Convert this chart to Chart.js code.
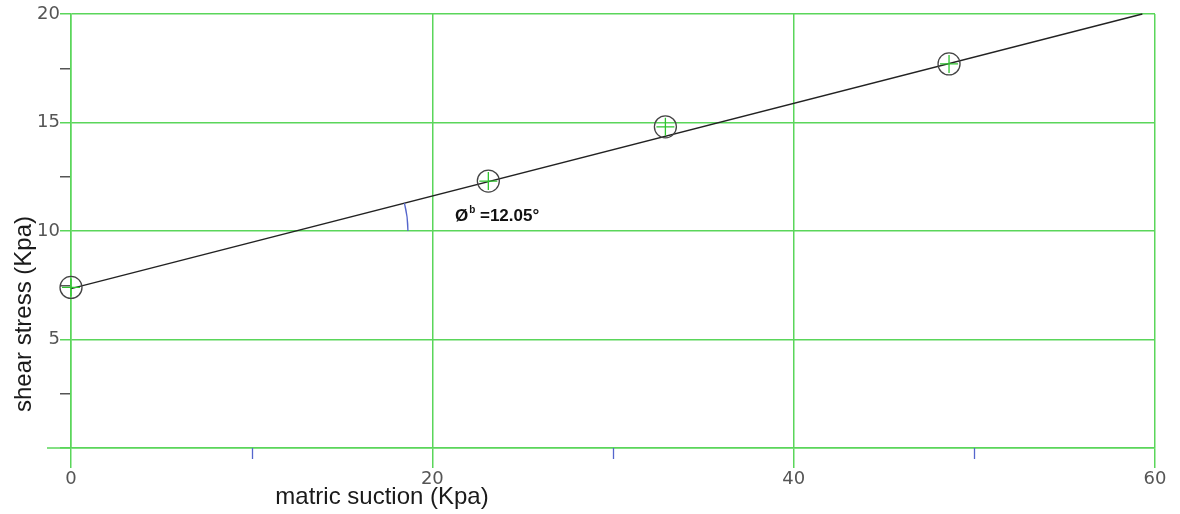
<!DOCTYPE html>
<html>
<head>
<meta charset="utf-8">
<script src="https://cdn.jsdelivr.net/npm/chart.js@4.4.1/dist/chart.umd.min.js"></script>
<style>
  html, body { margin: 0; padding: 0; background: #ffffff; }
  #wrap { width: 1180px; height: 514px; position: relative; }
</style>
</head>
<body>
<div id="wrap"><canvas id="c" width="1180" height="514"></canvas></div>
<script>
// ---- data ----
const suction = [0, 23.1, 32.9, 48.6];          // matric suction (kPa)
const shear   = [7.4, 12.3, 14.8, 17.7];         // shear stress (kPa)
const fitSuction = [0, 59.3];                    // fitted line end points
const fitShear   = [7.35, 20];
const xTickLabels = ['0', '20', '40', '60'];
const yTickLabels = ['5', '10', '15', '20'];
const xTitle = 'matric suction (Kpa)';
const yTitle = 'shear stress (Kpa)';
const angleSymbol = 'Ø';
const angleSup = 'b';
const angleText = ' =12.05°';
const angleLabelAt = [21.25, 10.44];   // where the angle label sits (data units)
const angleBaseShear = 10;             // horizontal reference line for the angle
const angleArcEnd = 18.65;             // suction where the arc meets the reference line

const GREEN = '#5ad65a';
const BLUE = '#5566cc';
const TICKGREY = '#555555';

const overlay = {
  id: 'overlay',
  afterDraw(chart) {
    const ctx = chart.ctx;
    const xs = chart.scales.x, ys = chart.scales.y;
    const area = chart.chartArea;
    ctx.save();
    // minor x ticks (blue)
    ctx.strokeStyle = BLUE; ctx.lineWidth = 1.3;
    xs.ticks.forEach(t => {
      if (t.value % 20 !== 0) {
        const px = Math.round(xs.getPixelForValue(t.value)) + 0.5;
        ctx.beginPath(); ctx.moveTo(px, area.bottom); ctx.lineTo(px, area.bottom + 11); ctx.stroke();
      }
    });
    // baseline extension at y = 0
    ctx.strokeStyle = GREEN; ctx.lineWidth = 1.5;
    const y0 = ys.getPixelForValue(0);
    ctx.beginPath(); ctx.moveTo(area.left - 24, y0); ctx.lineTo(area.left, y0); ctx.stroke();

    // angle arc
    const slope = (fitShear[1] - fitShear[0]) / (fitSuction[1] - fitSuction[0]);
    const xi = fitSuction[0] + (angleBaseShear - fitShear[0]) / slope;
    const cx = xs.getPixelForValue(xi), cy = ys.getPixelForValue(angleBaseShear);
    const p0x = xs.getPixelForValue(fitSuction[0]), p0y = ys.getPixelForValue(fitShear[0]);
    const p1x = xs.getPixelForValue(fitSuction[1]), p1y = ys.getPixelForValue(fitShear[1]);
    const ang = Math.atan2(p1y - p0y, p1x - p0x);
    const r = xs.getPixelForValue(angleArcEnd) - cx;
    ctx.strokeStyle = BLUE; ctx.lineWidth = 1.3;
    ctx.beginPath(); ctx.arc(cx, cy, r, ang, 0); ctx.stroke();

    // angle label
    let lx = xs.getPixelForValue(angleLabelAt[0]);
    const ly = ys.getPixelForValue(angleLabelAt[1]);
    ctx.fillStyle = '#111';
    ctx.textBaseline = 'alphabetic'; ctx.textAlign = 'left';
    ctx.font = 'bold 17px "Liberation Sans", Arial, sans-serif';
    ctx.fillText(angleSymbol, lx, ly);
    lx += ctx.measureText(angleSymbol).width + 1;
    ctx.font = 'bold 10px "Liberation Sans", Arial, sans-serif';
    ctx.fillText(angleSup, lx, ly - 8);
    lx += ctx.measureText(angleSup).width;
    ctx.font = 'bold 17px "Liberation Sans", Arial, sans-serif';
    ctx.fillText(angleText, lx, ly);

    // axis titles
    ctx.fillStyle = '#1a1a1a';
    ctx.font = '24px "Liberation Sans", Arial, sans-serif';
    ctx.textAlign = 'center';
    ctx.fillText(xTitle, 382, 504);
    ctx.save();
    ctx.translate(31, 314);
    ctx.rotate(-Math.PI / 2);
    ctx.fillText(yTitle, 0, 0);
    ctx.restore();
    ctx.restore();
  }
};

const points = suction.map((x, i) => ({ x, y: shear[i] }));
const fit = fitSuction.map((x, i) => ({ x, y: fitShear[i] }));

new Chart(document.getElementById('c'), {
  type: 'scatter',
  data: {
    datasets: [
      { data: fit, showLine: true, borderColor: '#222', borderWidth: 1.3, pointRadius: 0, clip: false, order: 3 },
      { data: points, pointStyle: 'cross', pointRadius: 9, borderColor: '#2fc42f', borderWidth: 1.3, clip: false, order: 2 },
      { data: points, pointStyle: 'circle', pointRadius: 11, borderColor: '#444', backgroundColor: 'rgba(0,0,0,0)', borderWidth: 1.3, clip: false, order: 1 }
    ]
  },
  options: {
    responsive: false,
    animation: false,
    devicePixelRatio: 1,
    layout: { padding: { left: 0, right: 25, top: 14, bottom: 0 } },
    plugins: { legend: { display: false }, tooltip: { enabled: false } },
    scales: {
      x: {
        type: 'linear', min: 0, max: 60,
        afterFit: s => { s.height = 66; },
        border: { display: true, color: GREEN, width: 1.5 },
        grid: {
          color: c => (c.tick && c.tick.value % 20 === 0) ? GREEN : 'rgba(0,0,0,0)',
          tickColor: c => (c.tick && c.tick.value % 20 === 0) ? GREEN : 'rgba(0,0,0,0)',
          lineWidth: 1.5, tickLength: 20
        },
        ticks: {
          stepSize: 10, padding: 1, maxRotation: 0, autoSkip: false,
          color: TICKGREY, font: { family: '"DejaVu Sans"', size: 18 },
          callback: v => (v % 20 === 0 ? xTickLabels[v / 20] : '')
        }
      },
      y: {
        type: 'linear', min: 0, max: 20,
        afterFit: s => { s.width = 71; },
        border: { display: true, color: GREEN, width: 1.5 },
        grid: {
          color: c => (c.tick && c.tick.value % 5 === 0) ? GREEN : 'rgba(0,0,0,0)',
          tickColor: c => (c.tick && c.tick.value % 5 === 0) ? GREEN : '#555',
          lineWidth: 1.5, tickLength: 11
        },
        ticks: {
          stepSize: 2.5, padding: 0, autoSkip: false,
          color: TICKGREY, font: { family: '"DejaVu Sans"', size: 18 },
          callback: v => (v % 5 === 0 && v > 0 ? yTickLabels[v / 5 - 1] : '')
        }
      }
    }
  },
  plugins: [overlay]
});
</script>
</body>
</html>
